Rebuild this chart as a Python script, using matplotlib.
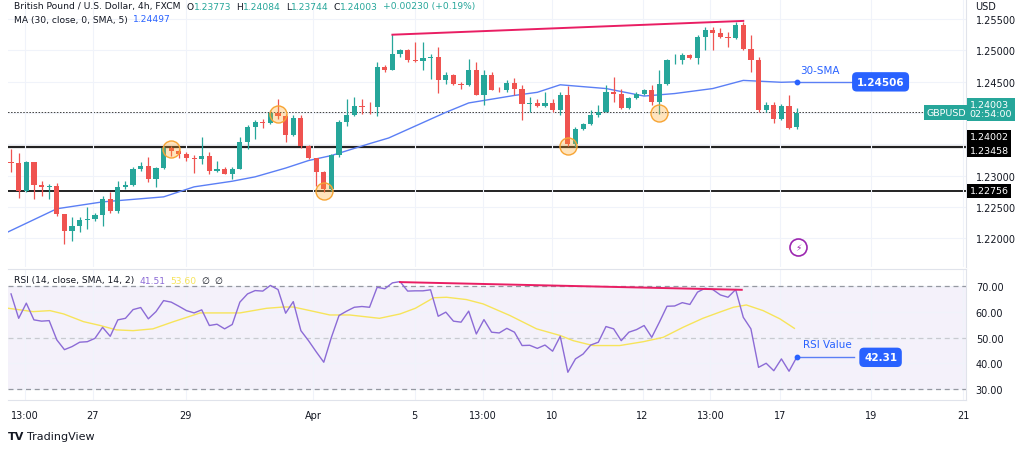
import matplotlib
matplotlib.use("Agg")
import matplotlib.pyplot as plt
from matplotlib.transforms import blended_transform_factory as btf
import numpy as np

# ---------------- data ----------------
closes = [1.2320,1.2275,1.2321,1.2285,1.2281,1.2283,1.2239,1.2212,1.2219,1.2229,
          1.2231,1.2237,1.2263,1.2243,1.2282,1.2285,1.2310,1.2315,1.2295,1.2312,
          1.2344,1.2340,1.2335,1.2328,1.2326,1.2331,1.2308,1.2311,1.2303,1.2311,
          1.2354,1.2378,1.2386,1.2384,1.2400,1.2395,1.2365,1.2392,1.2347,1.2328,
          1.2306,1.2279,1.2333,1.2385,1.2396,1.2411,1.2410,1.2409,1.2473,1.2469,
          1.2494,1.2500,1.2484,1.2483,1.2488,1.2490,1.2452,1.2461,1.2447,1.2445,
          1.2468,1.2429,1.2461,1.2437,1.2436,1.2448,1.2439,1.2415,1.2416,1.2411,
          1.2416,1.2404,1.2428,1.2350,1.2375,1.2383,1.2397,1.2402,1.2434,1.2430,
          1.2408,1.2424,1.2430,1.2437,1.2417,1.2446,1.2484,1.2485,1.2493,1.2488,
          1.2521,1.2532,1.2528,1.2521,1.2520,1.2541,1.2502,1.2485,1.2404,1.2413,
          1.2390,1.2411,1.2376,1.24003]
first_open = 1.2322
last_open = 1.23773
highs = [1.2343,1.2336,1.2324,1.2322,1.2291,1.2287,1.2288,1.2239,1.2234,1.2234,
         1.2250,1.2241,1.2268,1.2274,1.2291,1.2291,1.2313,1.2322,1.2329,1.2313,
         1.2348,1.2348,1.2343,1.2338,1.2333,1.2361,1.2338,1.2323,1.2313,1.2313,
         1.2361,1.2381,1.2388,1.2391,1.2404,1.2423,1.2399,1.2396,1.2396,1.2349,
         1.2327,1.2307,1.2335,1.2388,1.2423,1.2426,1.2423,1.2417,1.2481,1.2476,
         1.2526,1.2502,1.2502,1.2514,1.2514,1.2494,1.2505,1.2465,1.2462,1.2450,
         1.2486,1.2481,1.2468,1.2466,1.2441,1.2452,1.2456,1.2445,1.2425,1.2423,
         1.2434,1.2423,1.2433,1.2443,1.2377,1.2384,1.2404,1.2412,1.2445,1.2457,
         1.2439,1.2426,1.2433,1.2439,1.2445,1.2469,1.2486,1.2494,1.2496,1.2494,
         1.2524,1.2537,1.2537,1.2535,1.2529,1.2546,1.2545,1.2525,1.2489,1.2417,
         1.2417,1.2414,1.2429,1.24084]
lows = [1.2306,1.2264,1.2274,1.2263,1.2267,1.2263,1.2236,1.2190,1.2195,1.2210,
        1.2215,1.2228,1.2220,1.2241,1.2241,1.2279,1.2284,1.2308,1.2290,1.2281,
        1.2311,1.2332,1.2328,1.2323,1.2304,1.2319,1.2303,1.2306,1.2302,1.2294,
        1.2310,1.2343,1.2359,1.2376,1.2383,1.2391,1.2354,1.2363,1.2344,1.2326,
        1.2284,1.2274,1.2276,1.2329,1.2379,1.2395,1.2399,1.2399,1.2395,1.2466,
        1.2468,1.2489,1.2481,1.2482,1.2469,1.2454,1.2432,1.2447,1.2445,1.2439,
        1.2443,1.2428,1.2413,1.2436,1.2434,1.2434,1.2428,1.2388,1.2401,1.2409,
        1.2409,1.2402,1.2397,1.2348,1.2345,1.2373,1.2380,1.2393,1.2401,1.2418,
        1.2406,1.2406,1.2423,1.2428,1.2413,1.2398,1.2445,1.2478,1.2478,1.2486,
        1.2478,1.2500,1.2500,1.2519,1.2505,1.2518,1.2500,1.2466,1.2401,1.2401,
        1.2384,1.2389,1.2375,1.23744]

ma_idx = [0.6,7,13,21,25,30,33,37,40,43,48,50.5,58,61,67,70,73,79,84,88,93,97,102,104]
ma_val = [1.2210,1.2247,1.2258,1.2266,1.2282,1.2291,1.2298,1.2312,1.2324,1.2332,1.2351,1.2360,
          1.2401,1.2416,1.2428,1.2433,1.2445,1.2439,1.2427,1.2431,1.2439,1.2452,1.2449,1.24497]

rsi = [67.0,57.5,63.4,56.9,56.4,56.6,49.1,45.3,46.5,48.2,48.4,49.7,54.0,50.5,56.9,57.5,
       60.9,61.7,57.3,60.1,64.4,63.8,62.2,60.5,59.6,60.8,54.7,55.2,53.4,55.1,63.8,67.0,
       68.3,68.1,70.3,68.7,59.5,64.0,52.7,48.8,44.5,40.4,50.1,58.6,60.3,61.8,62.1,61.8,
       69.6,69.0,71.3,71.8,68.1,68.2,68.2,68.6,58.3,59.9,56.4,56.0,60.3,51.4,57.0,52.1,
       51.8,53.6,52.1,46.9,47.0,45.8,47.1,44.7,50.5,36.5,41.7,43.6,47.1,48.2,54.3,53.4,
       48.8,52.1,53.1,54.7,50.1,56.0,62.2,62.3,63.6,62.9,67.7,69.2,68.7,66.6,65.7,68.7,
       57.9,53.4,38.4,40.0,37.1,41.7,36.9,42.31]
rsima_idx = [0.65,3.9,6.1,7.9,10.5,12.7,14.8,17.0,19.6,22.3,25.8,31.0,34.5,36.7,38.0,40.2,
             42.8,45.4,49.3,52.0,54.0,56.4,58.1,60.7,62.9,66.4,69.9,73.0,74.7,77.3,80.8,
             83.9,86.5,89.1,91.7,93.9,95.7,97.4,99.6,101.8,103.7]
rsima_val = [61.4,60.1,60.5,59.2,56.2,54.7,53.0,52.7,53.4,56.2,59.6,59.6,61.4,61.9,61.9,60.5,
             58.8,58.8,57.5,59.2,61.4,65.5,65.7,64.8,63.1,58.6,53.4,50.8,48.8,46.9,46.9,
             48.4,50.1,54.0,57.5,59.9,61.8,62.7,60.5,57.3,53.6]

levels = [1.24003, 1.23458, 1.22756]
price_ticks = [1.220,1.225,1.230,1.235,1.240,1.245,1.250,1.255]
price_tick_labels = ["1.22000","1.22500","1.23000","","","1.24500","1.25000","1.25500"]
rsi_ticks = [30,40,50,60,70]
x_tick_pos = [2.8,11.7,23.9,40.6,53.9,62.9,71.9,83.8,92.7,101.8,113.8,125.8]
x_tick_labels = ["13:00","27","29","Apr","5","13:00","10","12","13:00","17","19","21"]
circles_idx = [22,36,42,74,86]
circles_px = [1.2343,1.2399,1.2276,1.2347,1.2400]
res_idx = [51,97]; res_val = [1.2525,1.2547]
rsi_res_idx = [52,96.8]; rsi_res_val = [71.6,68.6]

# ---------------- style ----------------
GREEN = "#26a69a"; RED = "#ef5350"; BLUE = "#5b7ff5"; PURPLE = "#8c6bd6"
YEL = "#f7e45a"; PINK = "#e91e63"; TXT = "#131722"; GRID = "#f0f3fa"
W, H = 1024, 452
fig = plt.figure(figsize=(W/100, H/100), dpi=100)
plt.rcParams["font.family"] = "DejaVu Sans"

def fx(px): return px / W
def fy(py): return 1 - py / H

ax = fig.add_axes([fx(8), fy(268), fx(966) - fx(8), 268 / H])
ax2 = fig.add_axes([fx(8), fy(401), fx(966) - fx(8), (401 - 270) / H], sharex=ax)
XL = (0.6, 126.2)

n = len(closes)
idx = np.arange(1, n + 1)
opens = [first_open] + closes[:-2] + [last_open]
cols = [GREEN if c >= o else RED for o, c in zip(opens, closes)]
ax.vlines(idx, lows, highs, colors=cols, linewidth=0.9, zorder=3)
bottoms = [min(o, c) for o, c in zip(opens, closes)]
heights = [max(abs(c - o), 0.00008) for o, c in zip(opens, closes)]
ax.bar(idx, heights, bottom=bottoms, width=0.68, color=cols, zorder=4, linewidth=0)

ax.plot(ma_idx, ma_val, color=BLUE, lw=1.0, zorder=2)
ax.plot([ma_idx[-1], 111.5], [ma_val[-1], ma_val[-1]], color=BLUE, lw=1, zorder=2)
ax.scatter([ma_idx[-1]], [ma_val[-1]], s=10, color="#2962ff", zorder=5)
ax.text(107, 1.2468, "30-SMA", color="#2962ff", fontsize=7.5, ha="center", va="center")
ax.text(115, ma_val[-1], "1.24506", color="white", fontsize=7.5, ha="center", va="center",
        fontweight="bold", bbox=dict(boxstyle="round,pad=0.45", fc="#2962ff", ec="none"))

ax.axhline(levels[0], color="black", lw=1.1, ls=(0, (1, 1)), zorder=1)
ax.axhline(levels[1], color="#222222", lw=1.6, zorder=1)
ax.axhline(levels[2], color="#222222", lw=1.4, zorder=1)
ax.plot(res_idx, res_val, color=PINK, lw=1.4, zorder=5)
ax.scatter(circles_idx, circles_px, s=150, facecolor=(1, 0.65, 0.15, 0.3),
           edgecolor="#f7a433", lw=1, zorder=6)
ax.scatter([104.2], [1.2186], s=150, facecolor="white", edgecolor="#9c27b0", lw=1.2, zorder=6)
ax.text(104.2, 1.2186, "⚡", color="#9c27b0", fontsize=6.5, ha="center", va="center", zorder=7)
ax.text(123.6, levels[0], "GBPUSD", color="white", fontsize=6.8, ha="center", va="center",
        bbox=dict(boxstyle="square,pad=0.3", fc=GREEN, ec="none"), zorder=7)

ax.set_xlim(*XL)
ax.set_ylim(1.2154, 1.2582)
ax.set_yticks(price_ticks)
ax.set_yticklabels(price_tick_labels)
ax.yaxis.tick_right()
ax.tick_params(axis="y", length=0, pad=7, labelsize=7, labelcolor=TXT)
ax.tick_params(axis="x", length=0, labelbottom=False)
ax.set_xticks(x_tick_pos)
ax.grid(True, color=GRID, lw=0.8)
for s in ["top", "left", "bottom"]:
    ax.spines[s].set_visible(False)
ax.spines["right"].set_color("#e0e3eb")

tr = btf(ax.transAxes, ax.transData)
def ptag(y, txt, fc, va="center"):
    ax.text(1.004, y, txt, transform=tr, color="white",
            fontsize=6.8, ha="left", va=va, linespacing=1.05,
            bbox=dict(boxstyle="square,pad=0.25", fc=fc, ec="none"), zorder=8, clip_on=False)
ptag(1.2406, "1.24003\n02:54:00", GREEN)
ptag(1.2362, "1.24002", "black")
ptag(1.2340, "1.23458", "black")
ptag(1.22756, "1.22756", "black")
fig.text(fx(975), fy(7), "USD", fontsize=7, color=TXT, va="center")

# RSI
ax2.axhspan(30, 70, color="#7e57c2", alpha=0.08, lw=0)
for lv in [70, 50, 30]:
    ax2.axhline(lv, color="#9598a1" if lv != 50 else "#c8cad0", lw=0.9, ls=(0, (4, 3)))
ax2.plot(idx, rsi, color=PURPLE, lw=1.0, zorder=3)
ax2.plot(rsima_idx, rsima_val, color=YEL, lw=1.0, zorder=2)
ax2.plot(rsi_res_idx, rsi_res_val, color=PINK, lw=1.4, zorder=4)
ax2.plot([104, 111.5], [rsi[-1], rsi[-1]], color=BLUE, lw=1)
ax2.scatter([104], [rsi[-1]], s=10, color="#2962ff", zorder=5)
ax2.text(108, 47.5, "RSI Value", color="#2962ff", fontsize=7.5, ha="center", va="center")
ax2.text(115, rsi[-1], "42.31", color="white", fontsize=7.5, ha="center", va="center",
         fontweight="bold", bbox=dict(boxstyle="round,pad=0.45", fc="#2962ff", ec="none"))
ax2.set_ylim(25.7, 76.7)
ax2.set_yticks(rsi_ticks)
ax2.set_yticklabels([f"{v:.2f}" for v in rsi_ticks])
ax2.yaxis.tick_right()
ax2.tick_params(axis="y", length=0, pad=7, labelsize=7, labelcolor=TXT)
ax2.set_xticks(x_tick_pos)
ax2.set_xticklabels(x_tick_labels)
ax2.tick_params(axis="x", length=0, pad=7, labelsize=7, labelcolor=TXT)
ax2.set_xlim(*XL)
ax2.grid(True, color=GRID, lw=0.8)
ax2.spines["top"].set_color("#e0e3eb")
ax2.spines["right"].set_color("#e0e3eb")
ax2.spines["bottom"].set_color("#e0e3eb")
ax2.spines["left"].set_visible(False)

# headers: chained segments measured with the renderer
renderer = fig.canvas.get_renderer()
def chain(x, y, parts, size=6.6):
    for s, c, gap in parts:
        t = fig.text(fx(x), fy(y), s, color=c, fontsize=size, va="center")
        bb = t.get_window_extent(renderer=renderer)
        x = x + bb.width + gap
chain(14, 7, [("British Pound / U.S. Dollar, 4h, FXCM", TXT, 6), ("O", TXT, 0), ("1.23773", GREEN, 5),
              ("H", TXT, 0), ("1.24084", GREEN, 5), ("L", TXT, 0), ("1.23744", GREEN, 5),
              ("C", TXT, 0), ("1.24003", GREEN, 5), ("+0.00230 (+0.19%)", GREEN, 0)])
chain(14, 20, [("MA (30, close, 0, SMA, 5)", TXT, 5), ("1.24497", "#2962ff", 0)])
chain(14, 281, [("RSI (14, close, SMA, 14, 2)", TXT, 5), ("41.51", PURPLE, 5),
                ("53.60", YEL, 5), ("∅", TXT, 5), ("∅", TXT, 0)])
fig.text(fx(8), fy(437), "TV", color=TXT, fontsize=8, fontweight="bold", va="center")
fig.text(fx(27), fy(437), "TradingView", color=TXT, fontsize=8, va="center")

fig.savefig("out.png", dpi=100, facecolor="white")
